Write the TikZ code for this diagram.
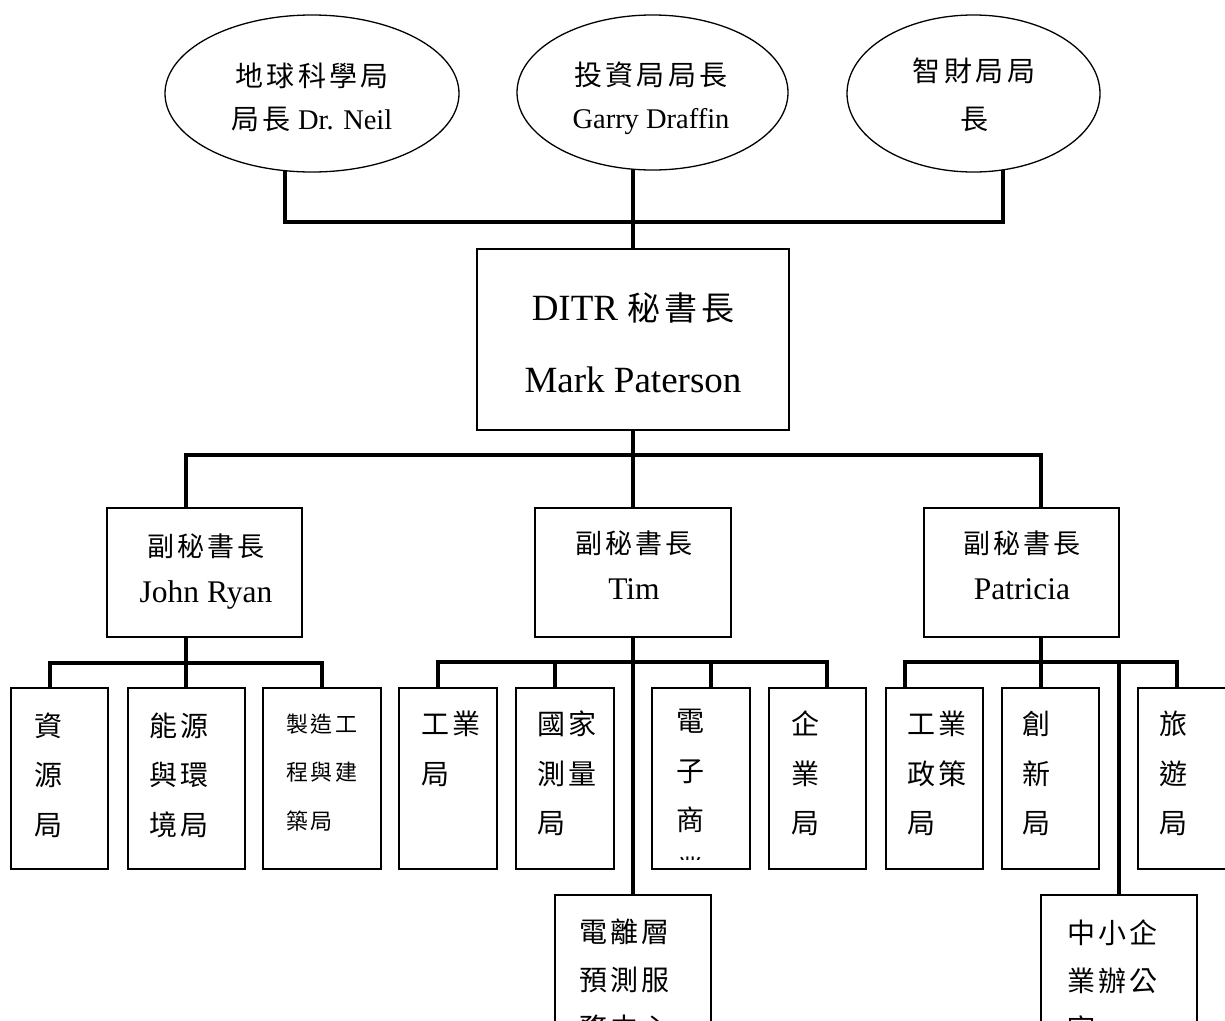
\documentclass[tikz,border=0pt]{standalone}
\usepackage{fontspec}
\setmainfont{Liberation Serif}
\newfontfamily\cjk[LetterSpace=12]{Noto Sans CJK TC}
\usetikzlibrary{shapes.geometric,backgrounds}
\begin{document}
\begin{tikzpicture}[x=1pt,y=-1pt,
  conn/.style={line width=3.6pt},
  oval/.style={ellipse,draw,line width=1.3pt,fill=white,inner sep=0pt},
  boxn/.style={draw,line width=1.5pt,fill=white,inner sep=0pt},
  lowbox/.style={boxn,minimum height=181pt},
  etxt/.style={anchor=base,align=center,inner sep=0pt,font=\fontsize{28.5}{43}\selectfont},
  dtxt/.style={anchor=base,align=center,inner sep=0pt,font=\fontsize{31.5}{46}\selectfont},
  btxt/.style={anchor=base west,align=left,inner sep=0pt,font=\cjk\fontsize{28}{49.5}\selectfont},
  stxt/.style={anchor=base west,align=left,inner sep=0pt,font=\cjk\fontsize{22}{48.3}\selectfont}]
\useasboundingbox (0,0) rectangle (1225,1020);
\clip (0,0) rectangle (1225,1020);
% ---- top ellipses
\node[oval,minimum width=294pt,minimum height=157pt] (E1) at (312,93.5) {};
\node[oval,minimum width=271pt,minimum height=155pt] (E2) at (652.5,92.5) {};
\node[oval,minimum width=253pt,minimum height=157pt] (E3) at (973.5,93.5) {};
% (anchor = baseline of the last line)
\node[etxt] (E1t) at (312,129) {{\cjk\fontsize{28}{43}\selectfont 地球科學局}\\{\cjk\fontsize{28}{43}\selectfont 局長} Dr. Neil};
\node[etxt] (E2t) at (651,128) {{\cjk\fontsize{28}{43}\selectfont 投資局局長}\\Garry Draffin};
\node[etxt,font=\fontsize{28}{48}\selectfont] (E3t) at (974,129) {{\cjk 智財局局}\\{\cjk 長}};
% ---- main box
\node[boxn,minimum width=312pt,minimum height=181pt] (Main) at (633,339.5) {};
\node[anchor=base,align=center,inner sep=0pt,font=\fontsize{37}{72}\selectfont] (Maint) at (633,392)
  {DITR {\cjk\fontsize{33}{72}\selectfont 秘書長}\\Mark Paterson};
% ---- deputies
\node[boxn,minimum width=195pt,minimum height=129pt] (D1) at (204.5,572.5) {};
\node[boxn,minimum width=196pt,minimum height=129pt] (D2) at (633,572.5) {};
\node[boxn,minimum width=195pt,minimum height=129pt] (D3) at (1021.5,572.5) {};
\node[dtxt] (D1t) at (206,602) {{\cjk\fontsize{27}{46}\selectfont 副秘書長}\\John Ryan};
\node[dtxt] (D2t) at (634,599) {{\cjk\fontsize{27}{46}\selectfont 副秘書長}\\Tim};
\node[dtxt] (D3t) at (1022,599) {{\cjk\fontsize{27}{46}\selectfont 副秘書長}\\Patricia};
% ---- lower boxes
\node[lowbox,minimum width=97pt] (A) at (59.5,778.5) {};
\node[lowbox,minimum width=117pt] (B) at (186.5,778.5) {};
\node[lowbox,minimum width=118pt] (C) at (322,778.5) {};
\node[lowbox,minimum width=98pt] (G) at (448,778.5) {};
\node[lowbox,minimum width=98pt] (H) at (565,778.5) {};
\node[lowbox,minimum width=98pt] (I) at (701,778.5) {};
\node[lowbox,minimum width=97pt] (J) at (817.5,778.5) {};
\node[lowbox,minimum width=97pt] (K) at (934.5,778.5) {};
\node[lowbox,minimum width=97pt] (L) at (1050.5,778.5) {};
\node[lowbox,minimum width=97pt] (M) at (1186.5,778.5) {};
\node[boxn,minimum width=156pt,minimum height=185pt] (N) at (633,987.5) {};
\node[boxn,minimum width=156pt,minimum height=185pt] (O) at (1119,987.5) {};
\node[btxt] (At) at (34,835) {資\\源\\局};
\node[btxt] (Bt) at (149,835) {能源\\與環\\境局};
\node[stxt] (Ct) at (286,829) {製造工\\程與建\\築局};
\node[btxt] (Gt) at (421,784) {工業\\局};
\node[btxt] (Ht) at (537,833.5) {國家\\測量\\局};
\begin{scope}
  \clip (652,688) rectangle (750,859);
  \node[btxt] (It) at (676,880) {電\\子\\商\\業};
\end{scope}
\node[btxt] (Jt) at (791,833.5) {企\\業\\局};
\node[btxt] (Kt) at (907,833.5) {工業\\政策\\局};
\node[btxt] (Lt) at (1022,833.5) {創\\新\\局};
\node[btxt] (Mt) at (1159,833.5) {旅\\遊\\局};
\node[btxt,font=\cjk\fontsize{28}{48.3}\selectfont] (Nt) at (579,1038.6) {電離層\\預測服\\務中心};
\node[btxt,font=\cjk\fontsize{28}{48.3}\selectfont] (Ot) at (1067,1039.6) {中小企\\業辦公\\室};
% ---- connectors
\begin{scope}[on background layer]
  \coordinate (t1) at (285,222);
  \coordinate (t3) at (1003,222);
  \draw[conn] (t1 |- E1.center) -- (t1) -- (t3) -- (t3 |- E3.center);
  \draw[conn] (Main.center) -- (Main.center |- E2.center);
  \coordinate (b1) at (186,455);
  \coordinate (b3) at (1041,455);
  \draw[conn] (b1 |- D1.center) -- (b1) -- (b3) -- (b3 |- D3.center);
  \draw[conn] (Main.center) -- (D2.center);
  \coordinate (c1) at (50,663);
  \coordinate (c3) at (322,663);
  \draw[conn] (c1 |- A.center) -- (c1) -- (c3) -- (c3 |- C.center);
  \draw[conn] (b1 |- D1.center) -- (b1 |- B.center);
  \coordinate (g1) at (438,662);
  \coordinate (g2) at (555,662);
  \coordinate (g3) at (711,662);
  \coordinate (g4) at (827,662);
  \draw[conn] (g1 |- G.center) -- (g1) -- (g4) -- (g4 |- J.center);
  \draw[conn] (g2) -- (g2 |- H.center);
  \draw[conn] (g3) -- (g3 |- I.center);
  \draw[conn] (D2.center) -- (N.center);
  \coordinate (k1) at (905,662);
  \coordinate (k3) at (1119,662);
  \coordinate (k4) at (1177,662);
  \draw[conn] (k1 |- K.center) -- (k1) -- (k4) -- (k4 |- M.center);
  \draw[conn] (b3 |- D3.center) -- (b3 |- L.center);
  \draw[conn] (k3) -- (O.center);
\end{scope}
\end{tikzpicture}
\end{document}
